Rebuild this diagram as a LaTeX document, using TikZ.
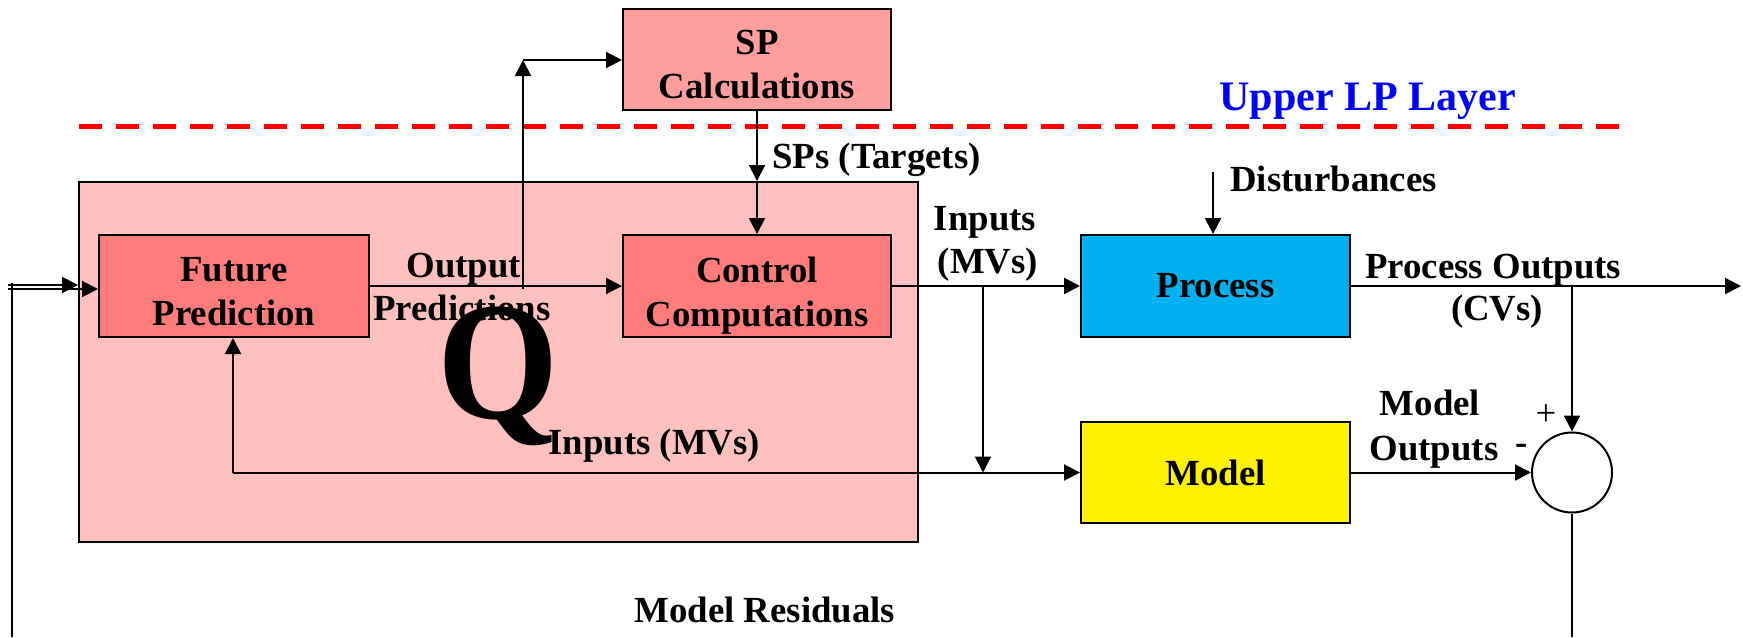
\documentclass[tikz,border=0pt]{standalone}
\usepackage{fontspec}
\setmainfont{Liberation Serif}
\usetikzlibrary{arrows.meta}
\definecolor{outerpink}{RGB}{255,192,192}
\definecolor{boxred}{RGB}{255,124,124}
\definecolor{sppink}{RGB}{255,158,158}
\definecolor{procblue}{RGB}{0,176,240}
\definecolor{lpblue}{RGB}{0,0,255}
\begin{document}
\begin{tikzpicture}[x=0.5pt,y=-0.5pt,
  font=\fontsize{18.4}{22}\selectfont\bfseries,
  box/.style={draw=black,line width=1pt,align=center,inner sep=0pt},
  lbl/.style={inner sep=0pt,anchor=base west},
  lblc/.style={inner sep=0pt,anchor=base},
  arr/.style={line width=1pt,-{Triangle[length=8pt,width=8pt]}},
  ln/.style={line width=1pt}]
\useasboundingbox (0,0) rectangle (1743,637);
% boxes
\node[box,fill=outerpink,minimum width=419.5pt,minimum height=180pt] (outer) at (498.5,362) {};
\node[box,fill=sppink,minimum width=134pt,minimum height=50.5pt] (sp) at (757,59.5) {\rule{0pt}{17.5pt}SP\\Calculations};
\node[box,fill=boxred,minimum width=135pt,minimum height=51pt] (fp) at (234,286) {\rule{0pt}{18pt}Future\\Prediction};
\node[box,fill=boxred,minimum width=134pt,minimum height=51pt] (cc) at (757,286) {\rule{0pt}{22pt}Control\\Computations};
\node[box,fill=procblue,minimum width=134.5pt,minimum height=51pt] (proc) at (1215.5,286) {Process};
\node[box,fill=yellow,minimum width=134.5pt,minimum height=50.5pt] (model) at (1215.5,472.5) {Model};
\node[draw,circle,line width=1pt,minimum size=40pt,inner sep=0pt,fill=white] (sum) at (1572,472.5) {};
% dashed layer line
\coordinate (dashA) at (79,126);
\coordinate (dashB) at (1632,126);
\draw[red,line width=2.5pt,dash pattern=on 11.5pt off 7pt] (dashA) -- (dashB);
\node[lbl,text=lpblue,font=\fontsize{21}{24}\selectfont\bfseries] (lp) at (1219,110) {Upper LP Layer};
% labels
\node[lbl] (spl) at (772,168) {SPs (Targets)};
\node[lbl] (op1) at (406,277) {Output};
\node[lbl] (op2) at (373,320) {Predictions};
\node[lbl,font=\fontsize{78}{80}\selectfont\bfseries,yscale=1.08] (q) at (437,418) {Q};
\node[lbl] (inl) at (548,454) {Inputs (MVs)};
\node[lblc] (in1) at (985,230) {Inputs};
\node[lblc] (in2) at (988,273) {(MVs)};
\node[lbl] (dl) at (1230,191) {Disturbances};
\node[lbl] (po1) at (1365,278) {Process Outputs};
\node[lblc] (po2) at (1497,320) {(CVs)};
\node[lblc] (mo1) at (1430,415) {Model};
\node[lblc] (mo2) at (1434,460) {Outputs};
\node[inner sep=0pt,font=\fontsize{18.4}{22}\selectfont\mdseries] (plus) at (1546,415) {+};
\node[inner sep=0pt] (minus) at (1522,449) {-};
\node[lbl] (mr) at (634,622) {Model Residuals};
% connectors
\draw[arr] (fp.east) -- (cc.west);
\coordinate (tap) at (523,289);
\coordinate (corner) at (523,60);
\draw[arr] (tap) -- (corner);
\draw[arr] (corner) -- (sp.west |- corner);
\draw[arr] (sp.south) -- (sp.south |- outer.north);
\draw[arr] (sp.south |- outer.north) -- (cc.north);
\draw[arr] (cc.east) -- (proc.west);
\coordinate (br) at (983,286);
\draw[arr] (br) -- (br |- model.west);
\coordinate (fb) at (233,472.5);
\draw[arr] (fb) -- (fb -| model.west);
\draw[arr] (fb) -- (fb |- fp.south);
\coordinate (dist) at (1213,172);
\draw[arr] (dist) -- (dist |- proc.north);
\coordinate (outend) at (1741,286);
\draw[arr] (proc.east) -- (outend);
\coordinate (tap2) at (1572,286);
\draw[arr] (tap2) -- (sum.north);
\draw[arr] (model.east) -- (sum.west);
\coordinate (resend) at (1572,637);
\draw[ln] (sum.south) -- (resend);
\coordinate (resin) at (12,637);
\coordinate (restop) at (12,283);
\draw[ln] (resin) -- (restop);
\coordinate (inA) at (8,285);
\coordinate (inB) at (8,289);
\draw[arr] (inA) -- (inA -| outer.west);
\draw[arr] (inB) -- (inB -| fp.west);
\end{tikzpicture}
\end{document}
